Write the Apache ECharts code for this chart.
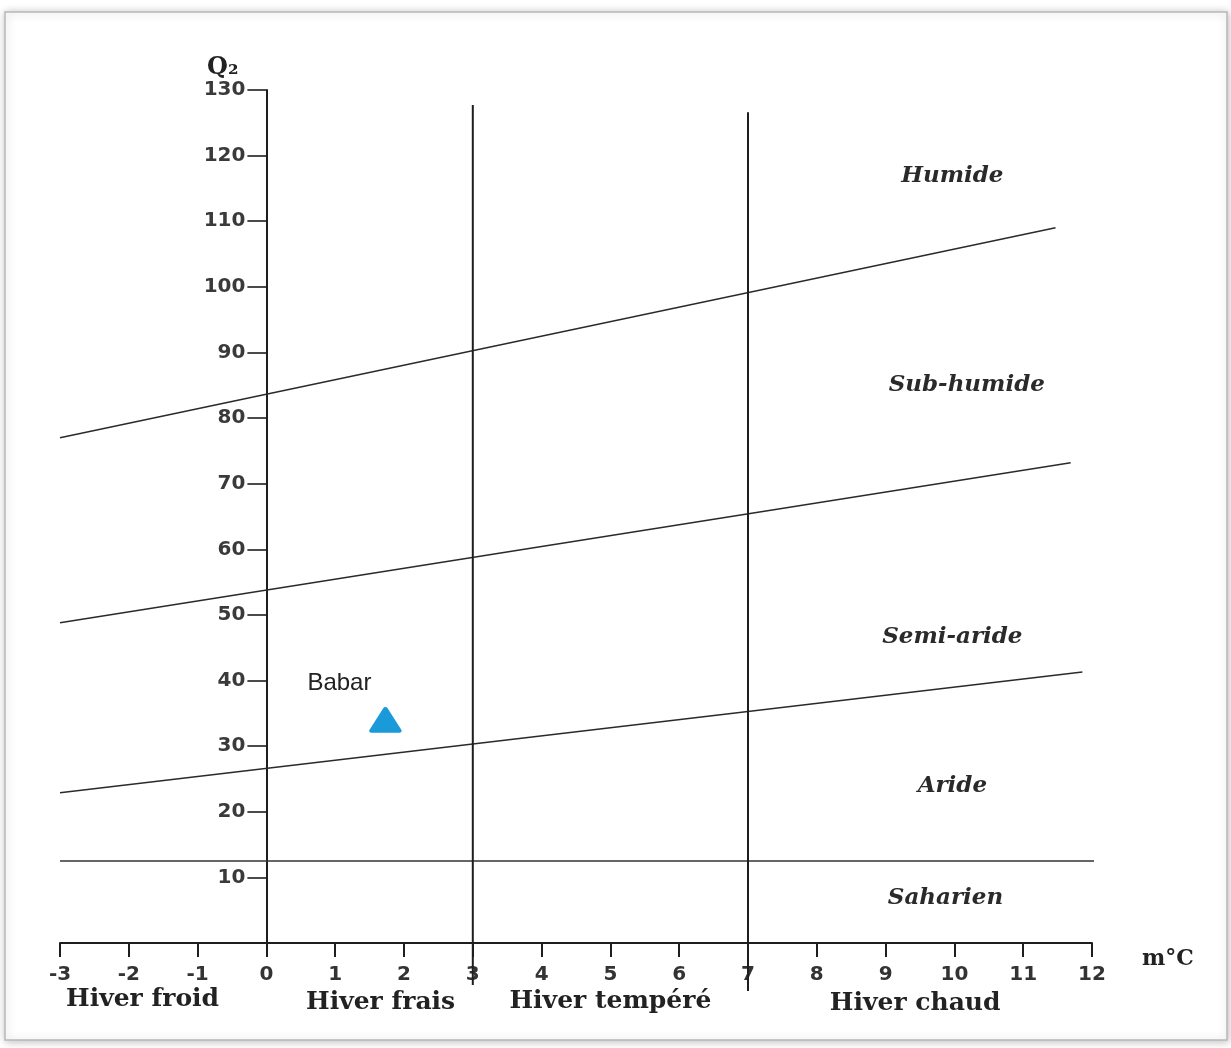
<!DOCTYPE html>
<html>
<head>
<meta charset="utf-8">
<script src="https://cdn.jsdelivr.net/npm/echarts@6/dist/echarts.min.js"></script>
<style>
  html, body { margin: 0; padding: 0; background: #ffffff; }
  #chart { width: 1231px; height: 1048px; }
</style>
</head>
<body>
<div id="chart"></div>
<script>
// ---- Data ----
const xMin = -3, xMax = 12;           // m (°C)
const yMin = 0, yMax = 130;           // Q2
// Bioclimatic boundary lines: [m, Q2] end points
const humideBoundary    = [[-3, 77.0], [11.47, 109.0]];
const semiAridBoundary  = [[-3, 48.8], [11.69, 73.2]];
const arideBoundary     = [[-3, 22.9], [11.86, 41.3]];
const saharienBoundary  = [[-3, 12.5], [12.12, 12.5]];
// Winter variant separators (m = 3 and m = 7)
const winterSeparatorX      = [3, 7];
const winterSeparatorTop    = [127.7, 126.6];
const winterSeparatorBottom = [-6.4, -7.3];
// Station
const stationNames = ['Babar'];
const stationM     = [1.73];
const stationQ2    = [34.0];
// Zone labels
const zoneNames = ['Humide', 'Sub-humide', 'Semi-aride', 'Aride', 'Saharien'];
const zoneM     = [9.97, 10.18, 9.97, 9.97, 9.87];
const zoneQ2    = [116.9, 85.1, 46.6, 23.9, 6.9];
// Winter labels (below the m axis)
const winterNames = ['Hiver froid', 'Hiver frais', 'Hiver tempéré', 'Hiver chaud'];
const winterM     = [-1.8, 1.66, 5.0, 9.43];
const winterQ2    = [-8.6, -9.0, -8.9, -9.2];

const gridLeft = 60, gridRight = 139;
const plotWidth = 1231 - gridLeft - gridRight;

const chart = echarts.init(document.getElementById('chart'), null, { renderer: 'canvas' });

const lineStyleThin = { color: '#2a2a2a', width: 1.4 };
const boundarySeries = [humideBoundary, semiAridBoundary, arideBoundary, saharienBoundary].map(function (d, i) {
  return {
    type: 'line', data: d, symbol: 'none', silent: true, clip: false,
    lineStyle: i === 3 ? { color: '#333', width: 1.6 } : lineStyleThin, z: 3
  };
});
const separatorSeries = winterSeparatorX.map(function (x, i) {
  return {
    type: 'line', data: [[x, winterSeparatorTop[i]], [x, winterSeparatorBottom[i]]],
    symbol: 'none', silent: true, clip: false,
    lineStyle: { color: '#1e1e1e', width: 2 }, z: 3
  };
});

const option = {
  animation: false,
  backgroundColor: '#ffffff',
  graphic: [{
    type: 'rect', silent: true, z: -10,
    shape: { x: 5, y: 12, width: 1222, height: 1028 },
    style: { fill: '#ffffff', stroke: '#b8b8b8', lineWidth: 1.5,
             shadowBlur: 8, shadowColor: 'rgba(0,0,0,0.25)', shadowOffsetX: 1, shadowOffsetY: 1 }
  }],
  grid: { left: gridLeft, right: gridRight, top: 90, bottom: 105, containLabel: false, outerBoundsMode: 'none' },
  xAxis: {
    type: 'value', min: xMin, max: xMax, interval: 1,
    name: 'm°C', nameLocation: 'end', nameGap: 50,
    nameTextStyle: { fontFamily: 'DejaVu Serif', fontWeight: 'bold', fontSize: 22, color: '#222',
                     verticalAlign: 'top', padding: [5, 0, 0, 0] },
    splitLine: { show: false },
    axisLine: { onZero: false, lineStyle: { color: '#1e1e1e', width: 2 } },
    axisTick: { show: true, length: 14, lineStyle: { color: '#1e1e1e', width: 2 } },
    axisLabel: { margin: 22, fontFamily: 'DejaVu Sans', fontWeight: 'bold', fontSize: 20, color: '#333' }
  },
  yAxis: {
    type: 'value', min: yMin, max: yMax, interval: 10,
    position: 'left',
    // place the Q2 axis on m = 0
    offset: -plotWidth * (0 - xMin) / (xMax - xMin),
    name: 'Q\u2082', nameLocation: 'end', nameGap: 10,
    nameTextStyle: { fontFamily: 'DejaVu Serif', fontWeight: 'bold', fontSize: 24, color: '#222',
                     align: 'right', padding: [0, 28, 0, 0] },
    splitLine: { show: false },
    axisLine: { onZero: false, lineStyle: { color: '#1e1e1e', width: 2 } },
    axisTick: { show: true, length: 19, lineStyle: { color: '#1e1e1e', width: 1.6 } },
    axisLabel: { margin: 21, showMinLabel: false, fontFamily: 'DejaVu Sans', fontWeight: 'bold',
                 fontSize: 20, color: '#3a3a3a' }
  },
  series: boundarySeries.concat(separatorSeries).concat([
    {
      type: 'scatter', silent: true, z: 5,
      data: stationNames.map(function (n, i) { return { name: n, value: [stationM[i], stationQ2[i]] }; }),
      symbol: 'triangle', symbolSize: [28, 22],
      itemStyle: { color: '#1a9ad8', borderColor: '#1a9ad8', borderWidth: 4, borderJoin: 'round', opacity: 1 },
      label: { show: true, position: 'inside', offset: [-46, -37], formatter: '{b}',
               fontFamily: 'Liberation Sans', fontSize: 24, color: '#222' }
    },
    {
      type: 'scatter', silent: true, z: 5, clip: false,
      data: zoneNames.map(function (n, i) { return { name: n, value: [zoneM[i], zoneQ2[i]] }; }),
      symbolSize: 0,
      itemStyle: { opacity: 1 },
      label: { show: true, position: 'inside', formatter: '{b}',
               fontFamily: 'DejaVu Serif', fontStyle: 'italic', fontWeight: 'bold', fontSize: 23, color: '#2a2a2a' }
    },
    {
      type: 'scatter', silent: true, z: 5, clip: false,
      data: winterNames.map(function (n, i) { return { name: n, value: [winterM[i], winterQ2[i]] }; }),
      symbolSize: 0,
      itemStyle: { opacity: 1 },
      label: { show: true, position: 'inside', formatter: '{b}',
               fontFamily: 'DejaVu Serif', fontWeight: 'bold', fontSize: 25, color: '#222' }
    }
  ])
};
chart.setOption(option);
</script>
</body>
</html>
